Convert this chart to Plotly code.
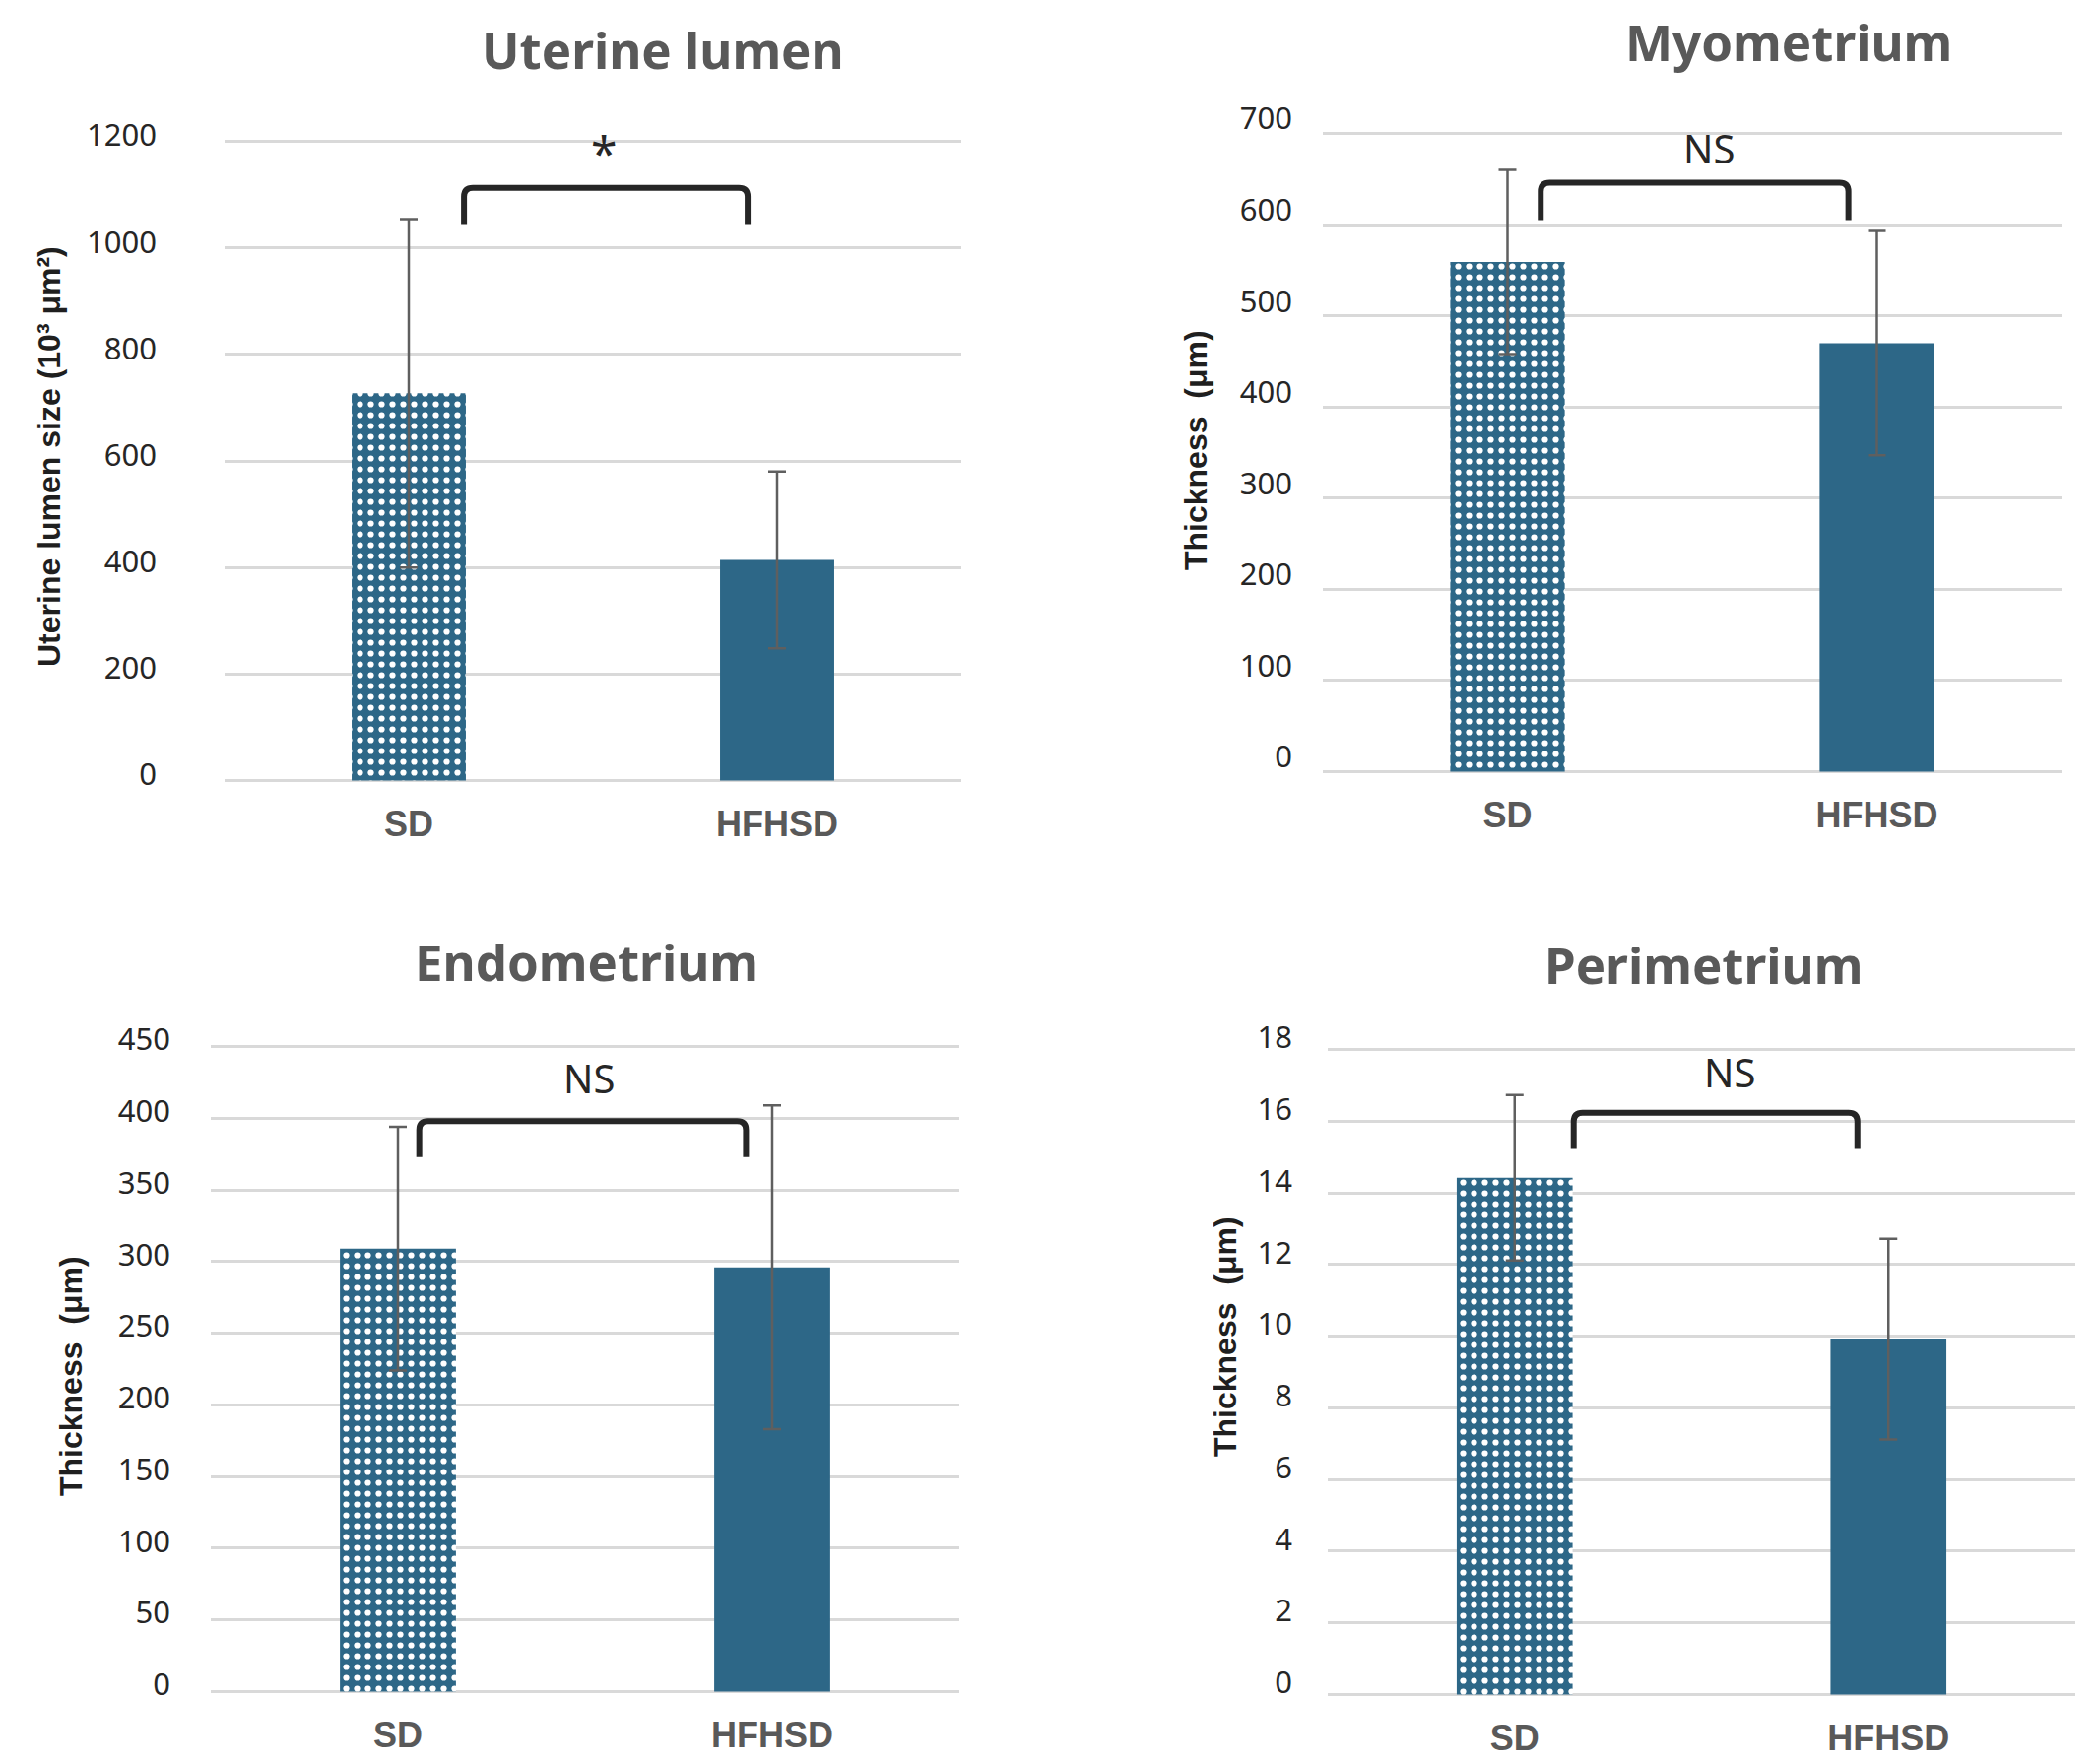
import plotly.graph_objects as go

# group names
categories = ["SD", "HFHSD"]

# means and error (SD)
lumen_mean = [727, 414]
lumen_err = [327, 166]
myo_mean = [559, 470]
myo_err = [101, 123]
endo_mean = [309, 296]
endo_err = [85, 113]
peri_mean = [14.42, 9.92]
peri_err = [2.31, 2.80]

panel_titles = ["Uterine lumen", "Myometrium", "Endometrium", "Perimetrium"]
y_titles = ["Uterine lumen size (10³ μm²)", "Thickness  (μm)", "Thickness  (μm)", "Thickness  (μm)"]
y_max = [1200, 700, 450, 18]
y_step = [200, 100, 50, 2]

# significance brackets
sig_labels = ["*", "NS", "NS", "NS"]
bracket_top = [1113, 646, 398, 16.24]
bracket_foot = [1045, 605, 373, 15.23]
sig_y = [1180, 684, 428, 17.37]

means = [lumen_mean, myo_mean, endo_mean, peri_mean]
errs = [lumen_err, myo_err, endo_err, peri_err]

W, H = 2130, 1791
BLUE = "#2D6787"

# plot areas in pixels: left, right, top, bottom
areas = [(220, 968, 133, 787), (1335, 2085, 125, 778),
         (206, 966, 1052, 1712), (1340, 2099, 1055, 1715)]
bracket_x = [(0.15, 0.92), (0.09, 0.923), (0.057, 0.93), (0.158, 0.917)]
sig_x = [0.53, 0.545, 0.51, 0.575]
sig_size = [48, 40, 40, 40]
label_standoff = [68, 30, 40, 35]
label_shift = [-6, -15, -7, -12]
title_pos = [(665, 42), (1808, 34), (587, 968), (1721, 971)]
ytitle_pos = [(42, 456), (1206, 449), (64, 1389), (1236, 1349)]

fig = go.Figure()
layout = dict(width=W, height=H, autosize=False, margin=dict(l=0, r=0, t=0, b=0, pad=0),
              paper_bgcolor="white", plot_bgcolor="white", showlegend=False,
              annotations=[], shapes=[])

for i in range(4):
    n = "" if i == 0 else str(i + 1)
    l, r, t, b = areas[i]
    pad = y_max[i] * 0.004  # keep the top/bottom gridlines from being clipped
    fig.add_trace(go.Bar(
        x=[0, 1], y=means[i], width=0.31,
        xaxis="x" + n, yaxis="y" + n,
        marker=dict(color=BLUE, line=dict(width=0),
                    pattern=dict(shape=[".", ""], fillmode="replace",
                                 bgcolor=BLUE, fgcolor="white",
                                 size=11, solidity=0.25)),
        error_y=dict(type="data", array=errs[i], color="#5f5f5f",
                     thickness=2.5, width=9),
    ))
    layout["xaxis" + n] = dict(
        domain=[l / W, r / W], anchor="y" + n, range=[-0.5, 1.5], automargin=False,
        tickvals=[0, 1], ticktext=categories, showgrid=False,
        zeroline=False, showline=False, ticks="", ticklabelstandoff=17,
        tickfont=dict(family="Liberation Sans", size=36, color="#595959", weight="bold"))
    layout["yaxis" + n] = dict(
        domain=[1 - b / H, 1 - t / H], anchor="x" + n, range=[-pad, y_max[i] + pad],
        automargin=False, tick0=0, dtick=y_step[i], showgrid=True,
        gridcolor="#D9D9D9", gridwidth=2.5,
        zeroline=False, showline=False, ticks="",
        ticklabelstandoff=label_standoff[i], ticklabelshift=label_shift[i],
        tickfont=dict(family="Noto Sans", size=31, color="#262626"))

    # bracket with rounded corners
    x0, x1 = bracket_x[i]
    yt, yf = bracket_top[i], bracket_foot[i]
    dx = 9 * 2.0 / (r - l)
    dy = 9 * y_max[i] / (b - t)
    path = (f"M {x0},{yf} L {x0},{yt - dy} Q {x0},{yt} {x0 + dx},{yt} "
            f"L {x1 - dx},{yt} Q {x1},{yt} {x1},{yt - dy} L {x1},{yf}")
    layout["shapes"].append(dict(type="path", path=path, xref="x" + n, yref="y" + n,
                                 line=dict(color="#262626", width=6)))
    layout["annotations"].append(dict(
        x=sig_x[i], y=sig_y[i], xref="x" + n, yref="y" + n, text=sig_labels[i],
        showarrow=False, xanchor="center", yanchor="middle",
        font=dict(family="Noto Sans", size=sig_size[i], color="#262626")))

    tx, ty = title_pos[i]
    layout["annotations"].append(dict(
        x=tx / W, y=1 - ty / H, xref="paper", yref="paper", text=panel_titles[i],
        showarrow=False, xanchor="center", yanchor="middle",
        font=dict(family="Noto Sans", size=51, color="#595959", weight="bold")))
    ax, ay = ytitle_pos[i]
    layout["annotations"].append(dict(
        x=ax / W, y=1 - ay / H, xref="paper", yref="paper", text=y_titles[i],
        showarrow=False, xanchor="center", yanchor="middle", textangle=-90,
        font=dict(family="Liberation Sans", size=32, color="#1f1f1f", weight="bold")))

fig.update_layout(**layout)
fig.write_html("out.html")
